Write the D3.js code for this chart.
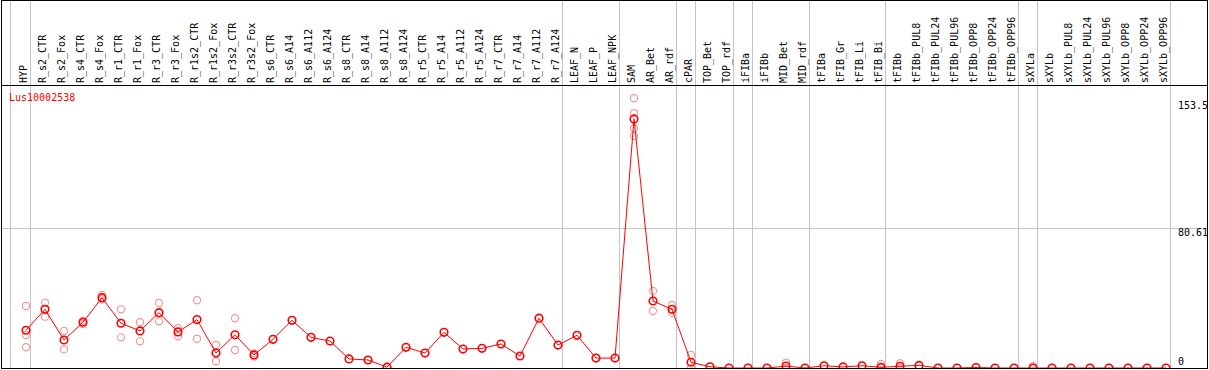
<!DOCTYPE html>
<html>
<head>
<meta charset="utf-8">
<script src="https://cdn.jsdelivr.net/npm/d3@7"></script>
<style>
  html, body { margin: 0; padding: 0; background: #fff; }
  svg { display: block; }
  text { font-family: 'DejaVu Sans Mono', monospace; font-size: 10px; }
</style>
</head>
<body>
<div id="chart"></div>
<script>
// Sample names across the top
const categories = [
  'HYP', 'R_s2_CTR', 'R_s2_Fox', 'R_s4_CTR', 'R_s4_Fox', 'R_r1_CTR', 'R_r1_Fox',
  'R_r3_CTR', 'R_r3_Fox', 'R_r1s2_CTR', 'R_r1s2_Fox', 'R_r3s2_CTR', 'R_r3s2_Fox',
  'R_s6_CTR', 'R_s6_A14', 'R_s6_A112', 'R_s6_A124', 'R_s8_CTR', 'R_s8_A14',
  'R_s8_A112', 'R_s8_A124', 'R_r5_CTR', 'R_r5_A14', 'R_r5_A112', 'R_r5_A124',
  'R_r7_CTR', 'R_r7_A14', 'R_r7_A112', 'R_r7_A124', 'LEAF_N', 'LEAF_P', 'LEAF_NPK',
  'SAM', 'AR_Bet', 'AR_rdf', 'cPAR', 'TOP_Bet', 'TOP_rdf', 'iFIBa', 'iFIBb',
  'MID_Bet', 'MID_rdf', 'tFIBa', 'tFIB_Gr', 'tFIB_Li', 'tFIB_Bi', 'tFIBb',
  'tFIBb_PUL8', 'tFIBb_PUL24', 'tFIBb_PUL96', 'tFIBb_OPP8', 'tFIBb_OPP24', 'tFIBb_OPP96',
  'sXYLa', 'sXYLb', 'sXYLb_PUL8', 'sXYLb_PUL24', 'sXYLb_PUL96', 'sXYLb_OPP8',
  'sXYLb_OPP24', 'sXYLb_OPP96'
]

// Mean expression per sample
const meanValues = [
  21.7, 33.7, 16.1, 26.3, 40.4, 25.7, 21.3, 31.8, 20.7, 27.8, 8.6, 19.1, 7.5,
  16.5, 27.4, 17.6, 15.5, 5.2, 4.6, 0.5, 11.9, 8.6, 20.5, 10.9, 11.3,
  13.8, 6.9, 28.6, 13.2, 18.8, 5.7, 5.7,
  143.1, 38.5, 33.7, 3.3, 0.7, 0, 0, 0,
  1.1, 0, 1.3, 0.6, 1.3, 0.4, 1.0,
  1.5, 0, 0, 0.3, 0, 0,
  0, 0, 0, 0, 0, 0, 0, 0
]

// Individual replicates (empty where only one sample)
const replicateValues = [
  [35.6, 19.0, 11.9], [37.5, 29.5], [21.3, 10.7], [27.2, 25.3], [42.0, 39.5],
  [33.7, 17.6], [26.3, 15.3], [37.4, 26.8], [22.8, 18.2], [38.9, 16.8],
  [13.2, 3.9], [28.6, 10.3], [8.4, 6.6],
  [], [], [], [], [], [], [], [], [], [], [], [], [], [], [], [], [], [], [],
  [155.0, 146.4, 137.8, 133.3], [44.3, 32.8], [36.2, 31.8], [7.5, 0],
  [], [], [], [], [3.0, 0], [], [], [], [], [2.3, 0], [2.7, 0],
  [], [], [], [], [], [], [1.1, 0], [], [], [], [], [], [], []
]

// Last sample of each group (a grey divider follows it)
const groupEnds = [
  'HYP', 'R_r7_A124', 'LEAF_NPK', 'AR_rdf', 'cPAR', 'TOP_rdf', 'iFIBa',
  'MID_rdf', 'tFIB_Bi', 'tFIBb_OPP96', 'sXYLa', 'sXYLb_OPP96'
]

const yTicks = [0, 80.61, 153.5]
const geneName = 'Lus10002538'

const width = 1209
const height = 370
const frame = { left: 1.5, top: 0.5, right: 1207.5, bottom: 368.5 }
const headerBottom = 85.5

const svg = d3
  .select('#chart')
  .append('svg')
  .attr('width', width)
  .attr('height', height)

// Scales
const x = d3.scalePoint().domain(categories).range([26, 1166])
const y = d3.scaleLinear().domain([0, 80.61]).range([368, 227.7])

// Clip for plotting area
svg
  .append('clipPath')
  .attr('id', 'plot-clip')
  .append('rect')
  .attr('x', frame.left)
  .attr('y', headerBottom)
  .attr('width', frame.right - frame.left)
  .attr('height', frame.bottom - headerBottom)

// Grey dividers
const dividerX = [x(categories[0]) - 15.5].concat(groupEnds.map(c => x(c) + 4.5))
svg
  .selectAll('.divider')
  .data(dividerX)
  .enter()
  .append('line')
  .attr('class', 'divider')
  .attr('x1', d => d)
  .attr('x2', d => d)
  .attr('y1', frame.top)
  .attr('y2', frame.bottom)
  .attr('stroke', '#c4c4c4')

// Horizontal grid line at the middle tick
svg
  .append('line')
  .attr('x1', frame.left)
  .attr('x2', frame.right)
  .attr('y1', Math.round(y(yTicks[1])) + 0.5)
  .attr('y2', Math.round(y(yTicks[1])) + 0.5)
  .attr('stroke', '#c4c4c4')

// Category labels
svg
  .selectAll('.cat-label')
  .data(categories)
  .enter()
  .append('text')
  .attr('class', 'cat-label')
  .attr('transform', d => `translate(${x(d) + 0.5},83) rotate(-90)`)
  .attr('fill', '#000')
  .text(d => d)

// Y tick labels
svg
  .selectAll('.y-label')
  .data(yTicks)
  .enter()
  .append('text')
  .attr('class', 'y-label')
  .attr('x', 1178)
  .attr('y', d => Math.min(y(d) + 8, 365))
  .attr('fill', '#000')
  .text(d => d)

// Gene name
svg
  .append('text')
  .attr('x', 9)
  .attr('y', 101)
  .attr('fill', '#ff0000')
  .text(geneName)

const plot = svg.append('g').attr('clip-path', 'url(#plot-clip)')

// Replicate circles
const reps = []
replicateValues.forEach((vals, i) => {
  vals.forEach(v => reps.push({ cat: categories[i], value: v }))
})
plot
  .selectAll('.rep')
  .data(reps)
  .enter()
  .append('circle')
  .attr('class', 'rep')
  .attr('cx', d => x(d.cat))
  .attr('cy', d => y(d.value))
  .attr('r', 3.6)
  .attr('fill', 'none')
  .attr('stroke', '#f09a9a')
  .attr('stroke-width', 1.2)

// Mean line
const line = d3
  .line()
  .x((d, i) => x(categories[i]))
  .y(d => y(d))
plot
  .append('path')
  .datum(meanValues)
  .attr('d', line)
  .attr('fill', 'none')
  .attr('stroke', '#ff0000')
  .attr('stroke-width', 1)

// Mean markers
plot
  .selectAll('.mean')
  .data(meanValues)
  .enter()
  .append('circle')
  .attr('class', 'mean')
  .attr('cx', (d, i) => x(categories[i]))
  .attr('cy', d => y(d))
  .attr('r', 3.8)
  .attr('fill', 'none')
  .attr('stroke', '#ff0000')
  .attr('stroke-width', 1.6)

// Frame and header separator
svg
  .append('rect')
  .attr('x', frame.left)
  .attr('y', frame.top)
  .attr('width', frame.right - frame.left)
  .attr('height', frame.bottom - frame.top)
  .attr('fill', 'none')
  .attr('stroke', '#000')
svg
  .append('line')
  .attr('x1', frame.left)
  .attr('x2', frame.right)
  .attr('y1', headerBottom)
  .attr('y2', headerBottom)
  .attr('stroke', '#000')
</script>
</body>
</html>
